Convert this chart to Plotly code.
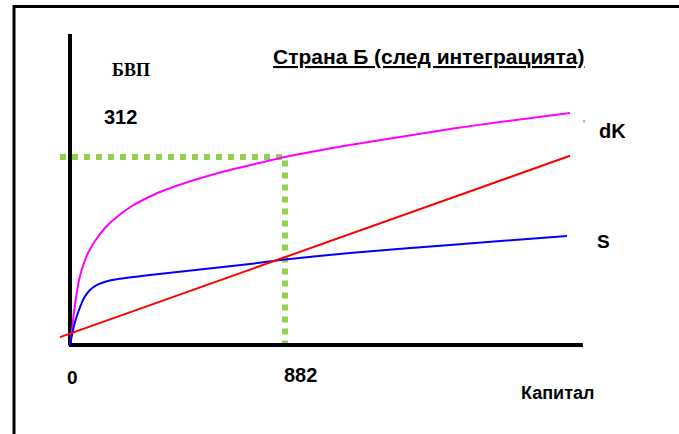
import plotly.graph_objects as go

# Data (capital K vs GDP)
k_pdk = [0, 8.2, 16.4, 24.6, 36.9, 53.3, 73.8, 102.6, 143.6, 196.9, 254.3, 307.7, 369.2,
         484.1, 623.6, 759.0, 882, 1148.6, 1353.8, 1558.9, 1764.0, 2051.2]
y_pdk = [0, 24.9, 54.8, 78.0, 107.9, 131.1, 152.7, 172.6, 194.2, 214.1, 230.7, 242.3, 253.9,
         270.5, 287.1, 300.4, 312, 331.9, 345.2, 358.5, 370.1, 385.0]

k_s = [0, 8.2, 20.5, 36.9, 57.4, 82.0, 110.8, 147.7, 196.9, 328.2, 738.4, 882, 1148.6, 1558.9, 2038.8]
y_s = [0, 16.6, 38.2, 58.1, 78.0, 91.3, 99.6, 105.4, 109.5, 116.2, 134.4, 141.9, 152.7, 166.0, 180.9]

k_dk = [-41, 2051]
y_dk = [13, 314]

k_eq = 882
y_eq = 312
x_axis_end = 2104
y_axis_top = 516

# pixel mapping helpers for layout
W, H = 679, 434
PX0, PY0 = 70, 345
SX = 882 / 215
SY = 312 / 188

def px(x):
    return x / W

def py(y):
    return 1 - y / H

fig = go.Figure()

# green dotted guide lines
fig.add_trace(go.Scatter(x=[-41, k_eq], y=[y_eq, y_eq], mode="lines",
                         line=dict(color="#92D050", width=6, dash="dot"), hoverinfo="skip"))
fig.add_trace(go.Scatter(x=[k_eq, k_eq], y=[y_eq - 6, 3], mode="lines",
                         line=dict(color="#92D050", width=6, dash="dot"), hoverinfo="skip"))

# axes
fig.add_trace(go.Scatter(x=[0, 0], y=[y_axis_top, -1], mode="lines",
                         line=dict(color="black", width=4), hoverinfo="skip"))
fig.add_trace(go.Scatter(x=[-4, x_axis_end], y=[0, 0], mode="lines",
                         line=dict(color="black", width=4), hoverinfo="skip"))

# curves
fig.add_trace(go.Scatter(x=k_pdk, y=y_pdk, mode="lines", line_shape="spline",
                         line=dict(color="#FF00FF", width=2, smoothing=0.6)))
fig.add_trace(go.Scatter(x=k_s, y=y_s, mode="lines", line_shape="spline",
                         line=dict(color="#0000FF", width=2, smoothing=0.6)))
fig.add_trace(go.Scatter(x=k_dk, y=y_dk, mode="lines",
                         line=dict(color="#FF0000", width=2)))

ann = []
def add(text, x, y, size=20, family="Arial, Liberation Sans, sans-serif", color="black"):
    ann.append(dict(text=text, x=px(x), y=py(y), xref="paper", yref="paper",
                    showarrow=False, xanchor="center", yanchor="middle",
                    font=dict(size=size, family=family, color=color)))

add("<b><u>Страна Б (след интеграцията)</u></b>", 429, 56, size=21)
add("<b>БВП</b>", 131, 70, size=18, family="Liberation Serif, Times New Roman, serif")
add("<b>312</b>", 120, 117, size=20)
add("<b>0</b>", 72, 377, size=19)
add("<b>882</b>", 300, 375, size=20)
add("<b>Капитал</b>", 557, 393, size=18)
add("<b>dK</b>", 612, 131, size=20)
add("<b>S</b>", 603, 241, size=19)
add("'", 584, 124, size=10, color="#555")

shapes = [
    dict(type="line", xref="paper", yref="paper", x0=px(13), x1=1.0, y0=py(6.5), y1=py(6.5),
         line=dict(color="black", width=3)),
    dict(type="line", xref="paper", yref="paper", x0=px(14), x1=px(14), y0=py(5), y1=0,
         line=dict(color="black", width=3)),
]

fig.update_layout(
    width=W, height=H,
    margin=dict(l=0, r=0, t=0, b=0),
    paper_bgcolor="white", plot_bgcolor="white",
    showlegend=False,
    xaxis=dict(visible=False, range=[-PX0 * SX, (W - PX0) * SX], fixedrange=True),
    yaxis=dict(visible=False, range=[(PY0 - H) * SY, PY0 * SY], fixedrange=True),
    annotations=ann, shapes=shapes,
)

fig.write_html("out.html", config={"displayModeBar": False},
               post_script="document.body.style.margin='0';document.body.style.overflow='hidden';")
